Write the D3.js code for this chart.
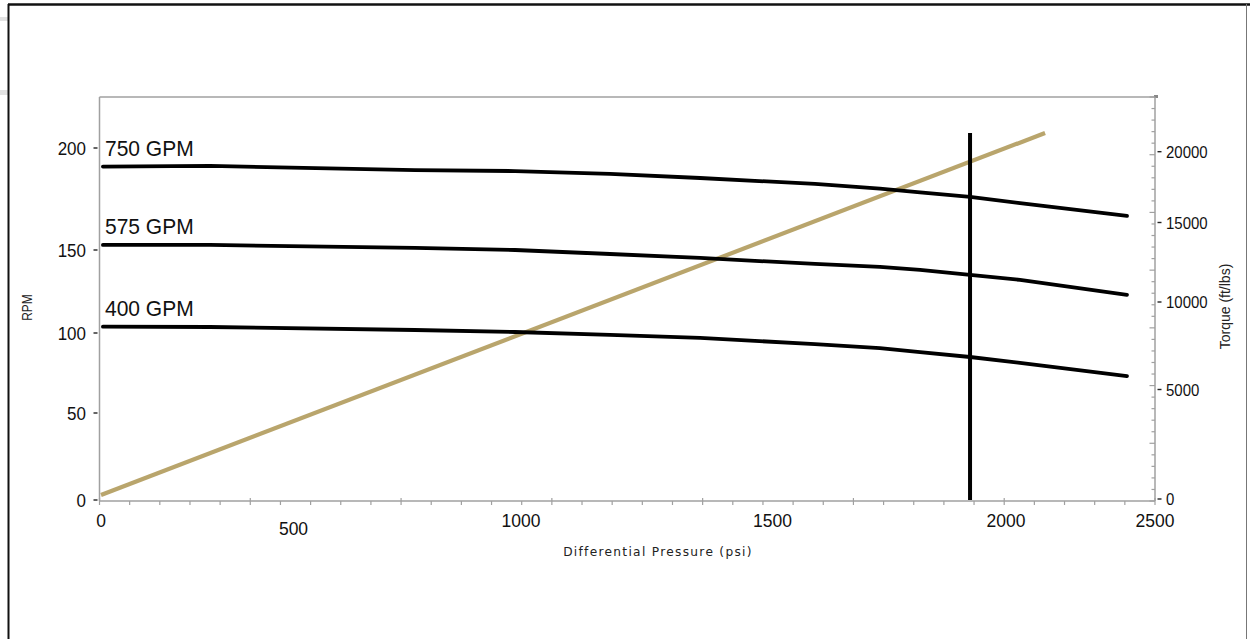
<!DOCTYPE html>
<html>
<head>
<meta charset="utf-8">
<script src="https://cdnjs.cloudflare.com/ajax/libs/d3/7.8.5/d3.min.js"></script>
<style>
  html, body { margin: 0; padding: 0; background: #fff; }
  svg { display: block; }
</style>
</head>
<body>
<svg id="chart" width="1250" height="639"></svg>
<script>
// ---------------- data ----------------
const psi     = [5, 283, 767, 987, 1177, 1356, 1591, 1730, 1816, 1923, 2047, 2406];
const rpm750  = [190.9, 191.2, 189.2, 188.7, 187.3, 185.3, 182.4, 180.1, 178.2, 176.0, 173.0, 166.7];
const rpm575  = [152.5, 152.5, 151.0, 150.0, 147.6, 145.2, 141.6, 139.8, 138.0, 135.0, 132.0, 123.0];
const rpm400  = [103.8, 103.6, 101.8, 100.6, 98.8, 96.9, 93.1, 90.6, 88.1, 85.0, 81.3, 73.1];
const seriesNames = ["750 GPM", "575 GPM", "400 GPM"];
const torquePsi = [0, 2131];
const torqueVal = [228, 21391];
const limitPsi = [1923, 1923];
const limitRpm = [0, 207.4];
const xTicks = [0, 500, 1000, 1500, 2000, 2500];
const rpmTicks = [0, 50, 100, 150, 200];
const torqueTicks = [0, 5000, 10000, 15000, 20000];
const xTitle = "Differential Pressure (psi)";
const yLeftTitle = "RPM";
const yRightTitle = "Torque (ft/lbs)";

// ---------------- scales ----------------
const x  = d3.scaleLinear().domain(xTicks).range([101, 293.5, 521, 772.5, 1006, 1155]);
const yL = d3.scaleLinear().domain(rpmTicks).range([500, 413, 333, 250, 148]);
const yR = d3.scaleLinear().domain(torqueTicks).range([500, 390.5, 303, 223.5, 152.7]);
const minorX = d3.scaleLinear().domain([0, 35]).range([99.5, 1155]);
const minorR = d3.scaleLinear().domain([0, 35]).range([501, 97]);

const svg = d3.select("#chart");
const axisGray = "#a0a0a0";

// ---------------- outer frame ----------------
svg.append("rect").attr("x", 0).attr("y", 17).attr("width", 8).attr("height", 4).attr("fill", "#e2e2e2");
svg.append("rect").attr("x", 0).attr("y", 90).attr("width", 8).attr("height", 5).attr("fill", "#e2e2e2");
svg.append("line").attr("x1", 8).attr("x2", 1250).attr("y1", 4.5).attr("y2", 4.5)
  .attr("stroke", "#111").attr("stroke-width", 2.5);
svg.append("line").attr("x1", 8.5).attr("x2", 8.5).attr("y1", 4).attr("y2", 639)
  .attr("stroke", "#111").attr("stroke-width", 2);
svg.append("line").attr("x1", 1246.5).attr("x2", 1246.5).attr("y1", 4).attr("y2", 639)
  .attr("stroke", "#777").attr("stroke-width", 1);

// ---------------- plot frame / axes ----------------
svg.append("line").attr("x1", 99.5).attr("x2", 1157).attr("y1", 97).attr("y2", 97)
  .attr("stroke", axisGray).attr("stroke-width", 1.5);
svg.append("rect").attr("x", 1154).attr("y", 95).attr("width", 4).attr("height", 3).attr("fill", "#888");
svg.append("line").attr("x1", 99.5).attr("x2", 99.5).attr("y1", 97).attr("y2", 501)
  .attr("stroke", axisGray).attr("stroke-width", 1.5);
svg.append("line").attr("x1", 99).attr("x2", 1155).attr("y1", 501).attr("y2", 501)
  .attr("stroke", axisGray).attr("stroke-width", 1.5);
svg.append("line").attr("x1", 1155).attr("x2", 1155).attr("y1", 97).attr("y2", 501)
  .attr("stroke", axisGray).attr("stroke-width", 1.5);

const idx = d3.range(0, 36);
// bottom minor/major ticks
svg.append("g").selectAll("line").data(idx).join("line")
  .attr("x1", d => minorX(d)).attr("x2", d => minorX(d))
  .attr("y1", d => d % 5 === 0 ? 498 : 501).attr("y2", 505)
  .attr("stroke", axisGray).attr("stroke-width", 1.2);
// right minor/major ticks
svg.append("g").selectAll("line").data(idx).join("line")
  .attr("y1", d => minorR(d)).attr("y2", d => minorR(d))
  .attr("x1", d => d % 5 === 0 ? 1149.5 : 1151.5).attr("x2", 1155)
  .attr("stroke", axisGray).attr("stroke-width", 1.2);

const numFont = "'Liberation Sans', Arial, sans-serif";

// left labels
const gl = svg.append("g");
gl.selectAll("line").data(rpmTicks).join("line")
  .attr("x1", 93.5).attr("x2", 97.5).attr("y1", d => yL(d)).attr("y2", d => yL(d))
  .attr("stroke", "#222").attr("stroke-width", 1.4);
gl.selectAll("text").data(rpmTicks).join("text")
  .attr("transform", d => `translate(86,${yL(d) + 6.6}) scale(1,1.1)`)
  .attr("text-anchor", "end").attr("font-family", numFont).attr("font-size", 17)
  .attr("fill", "#111").text(d => d);

// bottom labels
svg.append("g").selectAll("text").data(xTicks).join("text")
  .attr("transform", d => `translate(${x(d)},${d === 500 ? 535 : 527}) scale(1,1.1)`)
  .attr("text-anchor", "middle").attr("font-family", numFont).attr("font-size", 17.5)
  .attr("fill", "#111").text(d => d);

// right labels
const gr = svg.append("g");
gr.selectAll("line").data(torqueTicks).join("line")
  .attr("x1", 1157.5).attr("x2", 1161.5).attr("y1", d => yR(d) - 1).attr("y2", d => yR(d) - 1)
  .attr("stroke", "#222").attr("stroke-width", 1.4);
gr.selectAll("text").data(torqueTicks).join("text")
  .attr("transform", d => `translate(1166,${yR(d) - 1 + 6.2}) scale(1,1.15)`)
  .attr("text-anchor", "start").attr("font-family", numFont).attr("font-size", 15)
  .attr("fill", "#111").text(d => d);

// axis titles
svg.append("text").attr("x", 658).attr("y", 555.5).attr("text-anchor", "middle")
  .attr("font-family", "'DejaVu Sans', Verdana, sans-serif").attr("font-size", 12.2)
  .attr("letter-spacing", 1.3).attr("fill", "#222").text(xTitle);
svg.append("text").attr("transform", "translate(31.5,307.5) rotate(-90) scale(1,1.15)")
  .attr("text-anchor", "middle").attr("font-family", numFont).attr("font-size", 12)
  .attr("fill", "#222").text(yLeftTitle);
svg.append("text").attr("transform", "translate(1230,306.5) rotate(-90)")
  .attr("text-anchor", "middle").attr("font-family", numFont).attr("font-size", 14)
  .attr("fill", "#222").text(yRightTitle);

// ---------------- marks ----------------
const line = d3.line().x(d => x(d[0])).y(d => yL(d[1]));
const series = [rpm750, rpm575, rpm400].map((vals, i) => ({
  name: seriesNames[i],
  pts: psi.map((p, j) => [p, vals[j]])
}));

// torque line (right axis)
const tline = d3.line().x(d => x(d[0])).y(d => yR(d[1]));
svg.append("path").datum(torquePsi.map((p, i) => [p, torqueVal[i]]))
  .attr("d", tline).attr("fill", "none").attr("stroke", "#b9a56c").attr("stroke-width", 4.2);

// rpm curves
svg.append("g").selectAll("path").data(series).join("path")
  .attr("d", d => line(d.pts)).attr("fill", "none").attr("stroke", "#000")
  .attr("stroke-width", 3.8).attr("stroke-linecap", "round").attr("stroke-linejoin", "round");

// vertical limit line
svg.append("path").datum(limitPsi.map((p, i) => [p, limitRpm[i]]))
  .attr("d", line).attr("fill", "none").attr("stroke", "#000").attr("stroke-width", 4);

// series labels
svg.append("g").selectAll("text").data(series).join("text")
  .attr("transform", d => `translate(${x(0) + 4},${yL(d.pts[0][1]) - 11}) scale(1,1.05)`)
  .attr("font-family", numFont).attr("font-size", 21).attr("fill", "#111").text(d => d.name);
</script>
</body>
</html>
